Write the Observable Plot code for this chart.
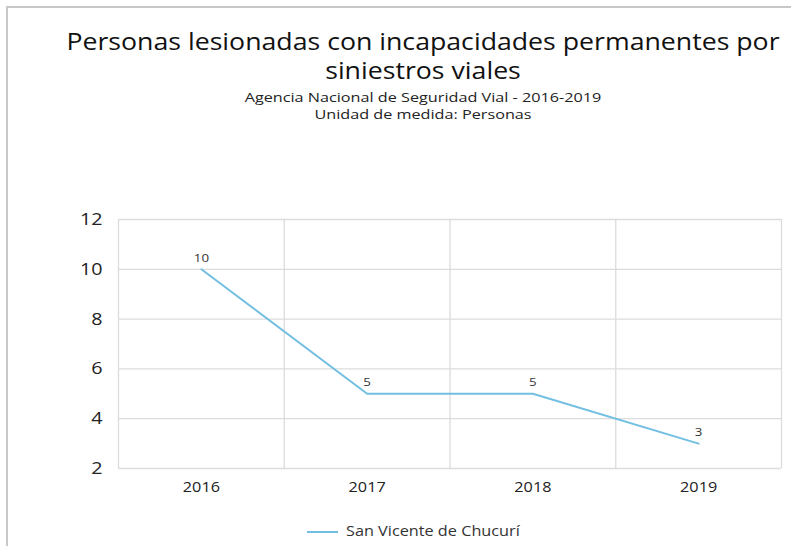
<!DOCTYPE html>
<html><head><meta charset="utf-8">
<script src="https://cdn.jsdelivr.net/npm/d3@7"></script>
<script src="https://cdn.jsdelivr.net/npm/@observablehq/plot@0.6"></script>
<style>
html,body{margin:0;padding:0;background:#fff;}
#wrap{position:relative;width:791px;height:546px;overflow:hidden;font-family:"Open Sans",sans-serif;}
#frame{position:absolute;left:6px;top:6px;width:800px;height:600px;border-top:2px solid #c8c8c8;border-left:2px solid #c8c8c8;}
.stretch{transform:scaleX(1.16);transform-origin:423px 0;}
.stretch2{transform:scaleX(1.2);transform-origin:423px 0;}
#title{position:absolute;left:0;top:27px;width:846px;text-align:center;font-size:23px;line-height:29px;color:#111;}
.sub{position:absolute;left:0;width:846px;text-align:center;font-size:13.5px;line-height:17px;height:17px;color:#222;white-space:nowrap;}
#sub1{top:89px;}
#sub2{top:106px;}
#chart{position:absolute;left:0;top:200px;}
#swatch{position:absolute;left:307px;top:531px;width:31px;height:2px;background:#72bfe2;}
#legtext{position:absolute;left:346px;top:521px;font-size:14px;line-height:20px;color:#333;transform:scaleX(1.16);transform-origin:0 0;white-space:nowrap;}
</style></head>
<body><div id="wrap">
<div id="frame"></div>
<div id="title" class="stretch">Personas lesionadas con incapacidades permanentes por<br>siniestros viales</div>
<div id="sub1" class="sub stretch2">Agencia Nacional de Seguridad Vial - 2016-2019</div>
<div id="sub2" class="sub stretch2">Unidad de medida: Personas</div>
<div id="chart"></div>
<div id="swatch"></div>
<div id="legtext">San Vicente de Chucurí</div>
</div>
<script>
const years = [2016, 2017, 2018, 2019];
const values = [10, 5, 5, 3];
const yTicks = [2, 4, 6, 8, 10, 12];
const seriesName = "San Vicente de Chucurí";
const color = "#72bfe2";

const data = years.map((y, i) => ({year: y, value: values[i], serie: seriesName}));
const bounds = [years[0] - 0.5, ...years.map(y => y + 0.5)];

const chart = Plot.plot({
  width: 791,
  height: 308,
  marginLeft: 118,
  marginRight: 10,
  marginTop: 19,
  marginBottom: 40,
  style: {fontFamily: "Open Sans, sans-serif", color: "#222", background: "transparent"},
  x: {domain: [years[0] - 0.5, years[years.length - 1] + 0.5], label: null},
  y: {domain: [2, 12], label: null},
  marks: [
    Plot.ruleY(yTicks, {stroke: "#dcdcdc", strokeWidth: 1.3}),
    Plot.ruleX(bounds, {stroke: "#dcdcdc", strokeWidth: 1.3}),
    Plot.axisX({ticks: years, tickFormat: d => String(d), tickSize: 0, tickPadding: 14, fontSize: 14, fill: "#222"}),
    Plot.axisY({ticks: yTicks, tickSize: 0, tickPadding: 16, fontSize: 17, fill: "#222"}),
    Plot.line(data, {x: "year", y: "value", stroke: color, strokeWidth: 2}),
    Plot.text(data, {x: "year", y: "value", text: d => String(d.value), dy: -11, fontSize: 11.5, fill: "#333"})
  ]
});
// horizontal stretch of the labels about their anchor point, as in the reference
chart.querySelectorAll("text").forEach(t => {
  const tr = t.getAttribute("transform") || "";
  t.setAttribute("transform", (tr + " scale(1.16,1)").trim());
});
document.getElementById("chart").appendChild(chart);
</script>
</body></html>
